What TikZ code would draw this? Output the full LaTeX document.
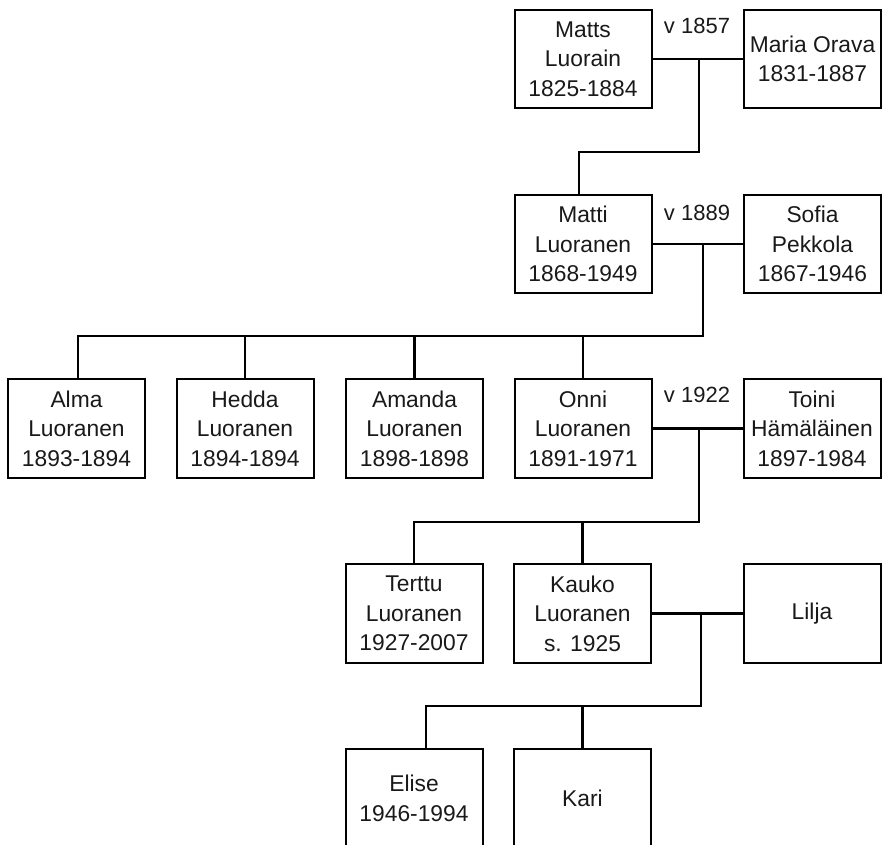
\documentclass[tikz,border=0pt]{standalone}
\usepackage{fontspec}
\setmainfont{Liberation Sans}
\begin{document}
\begin{tikzpicture}[x=1pt,y=-1pt,
  person/.style={draw, line width=2pt, minimum width=137pt, minimum height=98.5pt,
    align=center, inner sep=0pt, font=\fontsize{22.8}{29.5}\selectfont, text=black!90},
  link/.style={line width=2.4pt},
  wed/.style={font=\fontsize{22}{26}\selectfont, text=black!90, inner sep=0pt}]
\useasboundingbox (0,0) rectangle (882,844);
\clip (0,0) rectangle (882,844);

% generation 1
\node[person] (matts) at (583,59) {Matts\\Luorain\\1825-1884};
\node[person] (maria) at (812.5,59) {Maria Orava\\1831-1887};
\node[wed] (w1) at (697,26) {v 1857};
% generation 2
\node[person] (matti) at (583,244) {Matti\\Luoranen\\1868-1949};
\node[person] (sofia) at (812.5,244) {Sofia\\Pekkola\\1867-1946};
\node[wed] (w2) at (697,213) {v 1889};
% generation 3
\node[person] (alma) at (76.5,428.5) {Alma\\Luoranen\\1893-1894};
\node[person] (hedda) at (245,428.5) {Hedda\\Luoranen\\1894-1894};
\node[person] (amanda) at (414.5,428.5) {Amanda\\Luoranen\\1898-1898};
\node[person] (onni) at (583,428.5) {Onni\\Luoranen\\1891-1971};
\node[person] (toini) at (812,428.5) {Toini\\Hämäläinen\\1897-1984};
\node[wed] (w3) at (697,395) {v 1922};
% generation 4
\node[person] (terttu) at (414,613.5) {Terttu\\Luoranen\\1927-2007};
\node[person] (kauko) at (582.5,613.5) {Kauko\\Luoranen\\s. 1925};
\node[person] (lilja) at (812,613.5) {Lilja};
% generation 5
\node[person] (elise) at (414,798.5) {Elise\\1946-1994};
\node[person] (kari) at (582.5,798.5) {Kari};

% marriage 1
\draw[link] (matts.east) -- (maria.west);
\coordinate (m1) at (699,59);
\coordinate (c1) at (579,152);
\draw[link] (m1) |- (c1) -- (c1 |- matti.north);
% marriage 2
\draw[link] (matti.east) -- (sofia.west);
\coordinate (m2) at (703,243);
\coordinate (c2) at (78,336);
\draw[link] (m2) |- (c2) -- (c2 |- alma.north);
\draw[link] (hedda.north) -- (hedda.north |- c2);
\draw[link] (amanda.north) -- (amanda.north |- c2);
\draw[link] (onni.north) -- (onni.north |- c2);
% marriage 3
\draw[link] (onni.east) -- (toini.west);
\coordinate (m3) at (699,429);
\coordinate (c3) at (414,522);
\draw[link] (m3) |- (c3) -- (c3 |- terttu.north);
\draw[link] (kauko.north) -- (kauko.north |- c3);
% marriage 4
\draw[link] (kauko.east) -- (lilja.west);
\coordinate (m4) at (701,613.5);
\coordinate (c4) at (426,706);
\draw[link] (m4) |- (c4) -- (c4 |- elise.north);
\draw[link] (kari.north) -- (kari.north |- c4);
\end{tikzpicture}
\end{document}
